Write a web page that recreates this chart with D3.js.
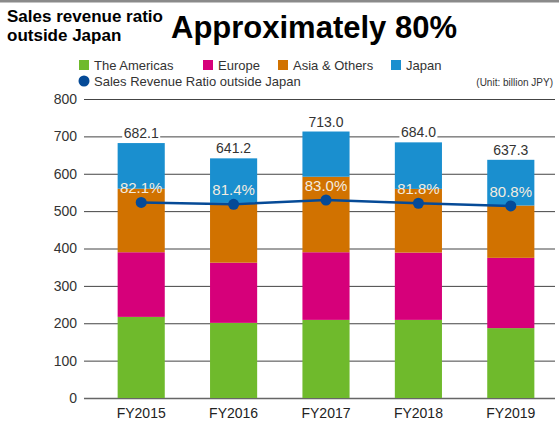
<!DOCTYPE html>
<html>
<head>
    <meta charset="utf-8">
    <style>
        body {
            margin: 0;
            background: #fff;
            font-family: 'Liberation Sans', Arial, Helvetica, sans-serif;
        }

        svg {
            display: block;
        }

        .y .tick line {
            stroke: #555;
        }

        .y .domain {
            display: none;
        }

        .y .tick text {
            font-size: 14px;
            fill: #333;
        }

        .x .domain,
        .x .tick line {
            display: none;
        }

        .x .tick text {
            font-size: 14px;
            fill: #222;
        }
    </style>
</head>

<body>
    <svg width="559" height="428"></svg>

    <script src="https://d3js.org/d3.v7.min.js"></script>
    <script>
        // values (billion JPY)
        let years = ["FY2015", "FY2016", "FY2017", "FY2018", "FY2019"];
        let americas = [217, 201, 209, 209, 187];
        let europe = [173, 161, 181, 180, 188];
        let asia = [170, 160, 202, 170.5, 140];
        let japan = [122.1, 119.2, 121.0, 124.5, 122.3];
        let ratio = [82.1, 81.4, 83.0, 81.8, 80.8];
        let yTicks = [0, 100, 200, 300, 400, 500, 600, 700, 800];

        let seriesNames = ["The Americas", "Europe", "Asia & Others", "Japan"];
        let colors = ["#6fba2c", "#d6007a", "#d17200", "#1a8fcf"];
        let lineColor = "#054a97";

        let svg = d3.select("svg");

        let margin = { left: 84, right: 555, top: 99, bottom: 398 };

        // build rows for the stack
        let rows = years.map((yr, i) => ({
            year: yr,
            "The Americas": americas[i],
            "Europe": europe[i],
            "Asia & Others": asia[i],
            "Japan": japan[i],
            ratio: ratio[i]
        }));

        let stacked = d3.stack().keys(seriesNames)(rows);

        let x = d3.scaleBand()
            .domain(years)
            .range([95, 557])
            .paddingInner(0.49)
            .paddingOuter(0.245);

        let y = d3.scaleLinear()
            .domain([0, 800])
            .range([margin.bottom, margin.top]);

        // hidden secondary axis for the ratio line
        let y2 = d3.scaleLinear()
            .domain([70, 90])
            .range([235.1, 181.1]);

        // top rule
        svg.append("rect")
            .attr("x", 0).attr("y", 0)
            .attr("width", 559).attr("height", 2.5)
            .attr("fill", "#8a8a8a");

        // titles
        svg.append("text")
            .attr("x", 7).attr("y", 22)
            .style("font-size", "17px").style("font-weight", "bold")
            .text("Sales revenue ratio");
        svg.append("text")
            .attr("x", 7).attr("y", 41)
            .style("font-size", "17px").style("font-weight", "bold")
            .text("outside Japan");
        svg.append("text")
            .attr("x", 171).attr("y", 38)
            .style("font-size", "31px").style("font-weight", "bold")
            .text("Approximately 80%");

        // legend
        let legendItems = [
            { name: "The Americas", color: colors[0], x: 79 },
            { name: "Europe", color: colors[1], x: 203 },
            { name: "Asia & Others", color: colors[2], x: 278 },
            { name: "Japan", color: colors[3], x: 391 }
        ];
        let legend = svg.append("g");
        legendItems.forEach(function (d) {
            legend.append("rect")
                .attr("x", d.x).attr("y", 60)
                .attr("width", 10).attr("height", 10)
                .attr("fill", d.color);
            legend.append("text")
                .attr("x", d.x + 15).attr("y", 70)
                .style("font-size", "13px").style("fill", "#333")
                .text(d.name);
        });
        legend.append("circle")
            .attr("cx", 84).attr("cy", 81).attr("r", 5.5)
            .attr("fill", lineColor);
        legend.append("text")
            .attr("x", 94).attr("y", 86)
            .style("font-size", "13px").style("fill", "#333")
            .text("Sales Revenue Ratio outside Japan");
        legend.append("text")
            .attr("x", 553).attr("y", 86)
            .attr("text-anchor", "end")
            .style("font-size", "10px").style("fill", "#333")
            .text("(Unit: billion JPY)");

        // y axis with gridlines
        let yAxis = svg.append("g")
            .attr("class", "y axis")
            .attr("transform", `translate(${margin.left},0)`)
            .call(d3.axisLeft(y)
                .tickValues(yTicks)
                .tickSize(-(margin.right - margin.left))
                .tickPadding(8));
        yAxis.selectAll(".tick text").attr("x", -7);
        yAxis.selectAll(".tick line")
            .style("stroke-width", d => d == 0 ? 1.5 : 1)
            .style("stroke", d => d == 0 ? "#666" : "#444");

        // x axis
        svg.append("g")
            .attr("class", "x axis")
            .attr("transform", `translate(0,${margin.bottom})`)
            .call(d3.axisBottom(x).tickSize(0).tickPadding(10));

        // bars
        svg.append("g")
            .selectAll("g")
            .data(stacked)
            .join("g")
            .attr("fill", (d, i) => colors[i])
            .selectAll("rect")
            .data(d => d)
            .join("rect")
            .attr("x", d => x(d.data.year))
            .attr("y", d => y(d[1]))
            .attr("width", x.bandwidth())
            .attr("height", d => y(d[0]) - y(d[1]));

        // total labels with white backing
        let totals = svg.append("g")
            .selectAll("g")
            .data(rows)
            .join("g")
            .attr("transform", d => {
                let t = d["The Americas"] + d["Europe"] + d["Asia & Others"] + d["Japan"];
                return `translate(${x(d.year) + x.bandwidth() / 2},${y(t) - 5})`;
            });
        totals.append("rect")
            .attr("x", -19).attr("y", -14)
            .attr("width", 38).attr("height", 16)
            .attr("fill", "#fff");
        totals.append("text")
            .attr("text-anchor", "middle")
            .style("font-size", "14px").style("fill", "#333")
            .text(d => d3.format(".1f")(d["The Americas"] + d["Europe"] + d["Asia & Others"] + d["Japan"]));

        // ratio line
        let line = d3.line()
            .x(d => x(d.year) + x.bandwidth() / 2)
            .y(d => y2(d.ratio));

        svg.append("path")
            .datum(rows)
            .attr("d", line)
            .attr("fill", "none")
            .attr("stroke", lineColor)
            .attr("stroke-width", 2.5);

        svg.append("g")
            .selectAll("circle")
            .data(rows)
            .join("circle")
            .attr("cx", d => x(d.year) + x.bandwidth() / 2)
            .attr("cy", d => y2(d.ratio))
            .attr("r", 5.5)
            .attr("fill", lineColor);

        // ratio labels
        svg.append("g")
            .selectAll("text")
            .data(rows)
            .join("text")
            .attr("x", d => x(d.year) + x.bandwidth() / 2)
            .attr("y", d => y2(d.ratio) - 9)
            .attr("text-anchor", "middle")
            .style("font-size", "15px")
            .style("fill", "#f3ece0")
            .text(d => d3.format(".1f")(d.ratio) + "%");
    </script>
</body>
</html>
